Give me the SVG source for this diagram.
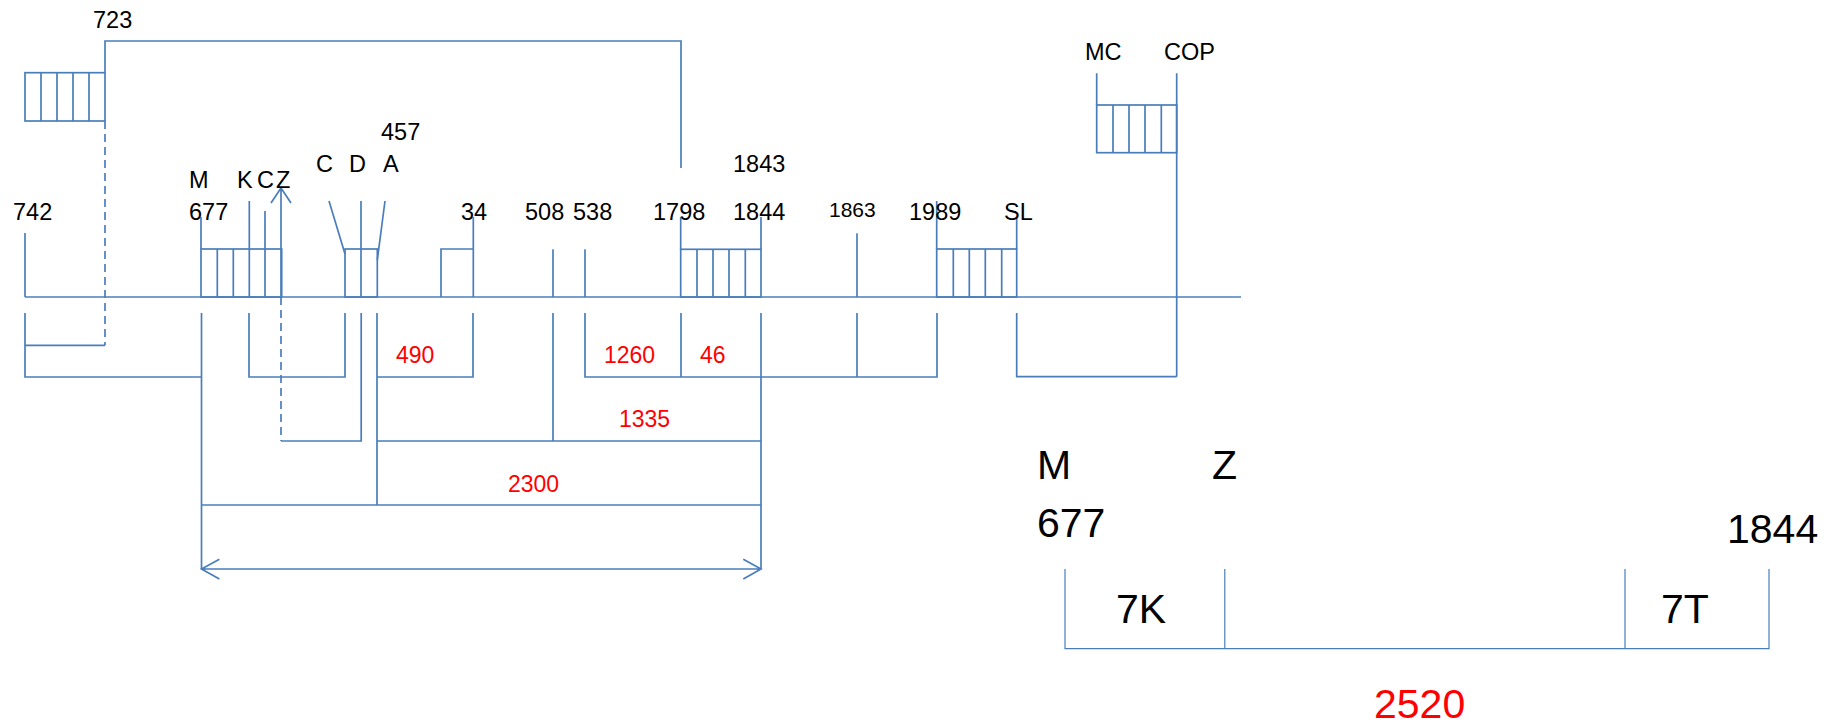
<svg xmlns="http://www.w3.org/2000/svg" width="1841" height="726" viewBox="0 0 1841 726">
<style>
.l{stroke:#4A7EBB;stroke-width:1.7;fill:none}
.t{stroke:#4A7EBB;stroke-width:1.2;fill:none}
.d{stroke:#4A7EBB;stroke-width:1.7;fill:none;stroke-dasharray:8 5}
.k{font-family:"Liberation Sans",Arial,sans-serif;font-size:23.5px;fill:#000}
.s{font-family:"Liberation Sans",Arial,sans-serif;font-size:21px;fill:#000}
.r{font-family:"Liberation Sans",Arial,sans-serif;font-size:23px;fill:#FF0000}
.b{font-family:"Liberation Sans",Arial,sans-serif;font-size:41px;fill:#000}
.br{font-family:"Liberation Sans",Arial,sans-serif;font-size:41px;fill:#FF0000}
</style>
<rect width="1841" height="726" fill="#fff"/>
<g id="timeline">
<line class="l" x1="25" y1="297" x2="1241" y2="297"/>
</g>
<g id="box723">
<rect class="l" x="25" y="72.7" width="80" height="48.3"/>
<path class="l" d="M41 72.7V121M57 72.7V121M73 72.7V121M89 72.7V121"/>
<text class="k" x="93" y="28">723</text>
</g>
<g id="n742">
<line class="l" x1="25" y1="233" x2="25" y2="297"/>
<text class="k" x="13" y="220">742</text>
</g>
<g id="boxM">
<rect class="l" x="201" y="249" width="80.7" height="48"/>
<path class="l" d="M217.3 249V297M233.3 249V297M249.3 201V297M265 211V297M201 217V249"/>
<path class="l" d="M281 297V188M271 203L281 188L291 203"/>
<text class="k" x="189" y="188">M</text>
<text class="k" x="189" y="220">677</text>
<text class="k" x="237" y="188">K</text>
<text class="k" x="257" y="188">C</text>
<text class="k" x="276" y="188">Z</text>
</g>
<g id="boxCDA">
<rect class="l" x="345" y="249" width="32.3" height="48"/>
<path class="l" d="M361 201V297M329 201L345 254M385 201L377.3 260"/>
<text class="k" x="316" y="172">C</text>
<text class="k" x="349" y="172">D</text>
<text class="k" x="383" y="172">A</text>
<text class="k" x="381" y="140">457</text>
</g>
<g id="box34">
<path class="l" d="M441 297V249H473.3V297M473.3 249V217"/>
<text class="k" x="461" y="220">34</text>
</g>
<g id="n508">
<line class="l" x1="553" y1="249.3" x2="553" y2="297"/>
<text class="k" x="525" y="220">508</text>
</g>
<g id="n538">
<line class="l" x1="585" y1="249.3" x2="585" y2="297"/>
<text class="k" x="573" y="220">538</text>
</g>
<g id="box1798">
<rect class="l" x="680.7" y="249.3" width="80.3" height="47.7"/>
<path class="l" d="M697 249.3V297M713 249.3V297M729 249.3V297M745.3 249.3V297M680.7 217V249.3M761 217V249.3"/>
<text class="k" x="653" y="220">1798</text>
<text class="k" x="733" y="220">1844</text>
<text class="k" x="733" y="172">1843</text>
</g>
<g id="n1863">
<line class="l" x1="857" y1="233.3" x2="857" y2="297"/>
<text class="s" x="829" y="217">1863</text>
</g>
<g id="box1989">
<rect class="l" x="936.7" y="249" width="80" height="48"/>
<path class="l" d="M953.3 249V297M969.3 249V297M985.3 249V297M1001.7 249V297M936.7 201V249M1016.7 218V249"/>
<text class="k" x="909" y="220">1989</text>
<text class="k" x="1004" y="220">SL</text>
</g>
<g id="boxMC">
<rect class="l" x="1096.7" y="105" width="80" height="47.7"/>
<path class="l" d="M1113 105V152.7M1129 105V152.7M1145 105V152.7M1161.3 105V152.7M1096.7 73.3V105M1176.7 73.3V376.7"/>
<text class="k" x="1085" y="60">MC</text>
<text class="k" x="1164" y="60">COP</text>
</g>
<g id="connectors">
<path class="l" d="M105 72.7V41H681V168"/>
<path class="d" d="M105 121V345.3"/>
<path class="d" d="M281 297V441"/>
<path class="l" d="M25 313V377H201.5M25 345.3H105"/>
<path class="l" d="M201.5 313V569"/>
<path class="l" d="M249 313V377H345V313"/>
<path class="l" d="M281 441H361.2V313"/>
<path class="l" d="M377 313V505M377 377H473V313"/>
<path class="l" d="M377 441H761M553 313V441"/>
<path class="l" d="M201.5 505H761"/>
<path class="l" d="M585 313V377H937V313M681 313V377M857 313V377"/>
<path class="l" d="M761 313V569"/>
<path class="l" d="M1016.7 313V376.7H1176.7"/>
<path class="l" d="M201.5 569H761M219.4 559.3L201.5 569L219.4 579M743.3 559.3L761 569L743.3 579"/>
</g>
<g id="labels">
<text class="r" x="396" y="363">490</text>
<text class="r" x="604" y="363">1260</text>
<text class="r" x="700" y="363">46</text>
<text class="r" x="619" y="427">1335</text>
<text class="r" x="508" y="492">2300</text>
</g>
<g id="summary">
<path class="t" d="M1065 569V648.7H1769V569M1224.8 569V648.7M1625 569V648.7"/>
<text class="b" x="1037" y="479">M</text>
<text class="b" x="1037" y="537">677</text>
<text class="b" x="1212" y="479">Z</text>
<text class="b" x="1727" y="543">1844</text>
<text class="b" x="1116" y="623">7K</text>
<text class="b" x="1661" y="623">7T</text>
<text class="br" x="1374" y="718">2520</text>
</g>
</svg>
